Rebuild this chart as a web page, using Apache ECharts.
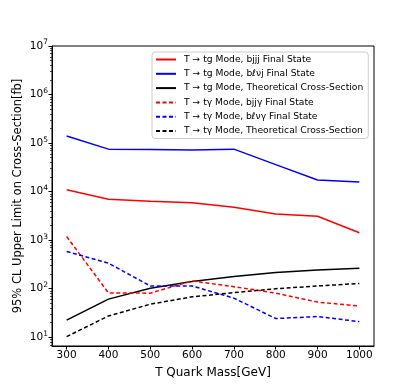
<!DOCTYPE html>
<html>
<head>
<meta charset="utf-8">
<script src="https://cdn.jsdelivr.net/npm/echarts@6/dist/echarts.min.js"></script>
<style>html,body{margin:0;padding:0;background:#fff}#c{width:415px;height:391px}</style>
</head>
<body>
<div id="c"></div>
<script>
var masses = [300, 400, 500, 600, 700, 800, 900, 1000];
var tgBjjj = [10900, 7000, 6300, 5900, 4760, 3470, 3110, 1420];
var tgBlvj = [140000, 75000, 74000, 72000, 75000, 36000, 17400, 15800];
var tgTheory = [22.5, 61, 102, 141, 178, 216, 244, 265];
var tyBjjy = [1190, 82, 81, 145, 110, 81, 53, 44];
var tyBlvy = [585, 336, 114, 114, 64, 24.3, 26.7, 21];
var tyTheory = [10.3, 27.5, 48, 68, 83, 100, 114, 128];
var seriesNames = [
  'T \u2192 tg Mode, bjjj Final State',
  'T \u2192 tg Mode, b\u2113\u03bdj Final State',
  'T \u2192 tg Mode, Theoretical Cross-Section',
  'T \u2192 t\u03b3 Mode, bjj\u03b3 Final State',
  'T \u2192 t\u03b3 Mode, b\u2113\u03bd\u03b3 Final State',
  'T \u2192 t\u03b3 Mode, Theoretical Cross-Section'
];
var xTicks = [300, 400, 500, 600, 700, 800, 900, 1000];
var yMajor = [1, 2, 3, 4, 5, 6, 7];

var yMinor = [];
for (var d = 0; d <= 6; d++) for (var m = 2; m <= 9; m++) yMinor.push(d + Math.log10(m));
var YMIN = 0.82, YMAX = 7;
yMinor = yMinor.filter(function (v) { return v >= YMIN && v <= YMAX; });

function mk(vals) { return masses.map(function (x, i) { return [x, Math.log10(vals[i])]; }); }
var allVals = [tgBjjj, tgBlvj, tgTheory, tyBjjy, tyBlvy, tyTheory];
var colors = ['#ff0000', '#0000ff', '#000000', '#ff0000', '#0000ff', '#000000'];
var types = ['solid', 'solid', 'solid', [4, 2.5], [4, 2.5], [4, 2.5]];
var FONT = 'DejaVu Sans';

var series = allVals.map(function (v, i) {
  return {
    name: seriesNames[i], type: 'line', data: mk(v), symbol: 'none',
    lineStyle: { color: colors[i], width: 1.5, type: types[i] },
    itemStyle: { color: colors[i] }, xAxisIndex: 0, yAxisIndex: 0, animation: false
  };
});

var chart = echarts.init(document.getElementById('c'));
chart.setOption({
  animation: false,
  grid: { left: 52, right: 41, top: 46, bottom: 45, show: true, borderColor: '#000', borderWidth: 1, backgroundColor: 'transparent' },
  legend: {
    orient: 'vertical', left: 152, top: 52, itemWidth: 20, itemHeight: 10, itemGap: 5.3,
    padding: [3, 5, 3, 3], backgroundColor: 'rgba(255,255,255,0.85)', borderColor: '#cccccc', borderWidth: 1, borderRadius: 3,
    itemStyle: { opacity: 0 },
    textStyle: { fontFamily: FONT, fontSize: 9.2, color: '#000', padding: [0, 0, 0, 3] },
    data: seriesNames
  },
  xAxis: {
    type: 'value', min: 265, max: 1035,
    name: 'T Quark Mass[GeV]', nameLocation: 'middle', nameGap: 21, nameMoveOverlap: false,
    nameTextStyle: { fontFamily: FONT, fontSize: 12, color: '#000' },
    axisLine: { show: true, lineStyle: { color: '#000', width: 1 } },
    axisTick: { show: true, length: 3.5, inside: false, lineStyle: { color: '#000' }, customValues: xTicks },
    axisLabel: { show: true, fontFamily: FONT, fontSize: 10.5, color: '#000', margin: 4, customValues: xTicks,
      formatter: function (v) { return String(v); } },
    splitLine: { show: false }
  },
  yAxis: [{
    type: 'value', min: YMIN, max: YMAX,
    name: '95% CL Upper Limit on Cross-Section[fb]', nameLocation: 'middle', nameGap: 28, nameMoveOverlap: false,
    nameTextStyle: { fontFamily: FONT, fontSize: 11.5, color: '#000' },
    axisLine: { show: true, lineStyle: { color: '#000', width: 1 } },
    axisTick: { show: true, length: 3.5, lineStyle: { color: '#000' }, customValues: yMajor },
    axisLabel: {
      show: true, margin: 4, customValues: yMajor,
      formatter: function (v) { return '{b|10}{s|' + Math.round(v) + '}'; },
      rich: {
        b: { fontFamily: FONT, fontSize: 10.5, color: '#000' },
        s: { fontFamily: FONT, fontSize: 7.5, color: '#000', padding: [0, 0, 7, 0] }
      }
    },
    splitLine: { show: false }
  }, {
    type: 'value', min: YMIN, max: YMAX, position: 'left',
    axisLine: { show: false },
    axisTick: { show: true, length: 2, lineStyle: { color: '#000', width: 0.7 }, customValues: yMinor },
    axisLabel: { show: false },
    splitLine: { show: false }
  }],
  series: series
});
</script>
</body>
</html>
